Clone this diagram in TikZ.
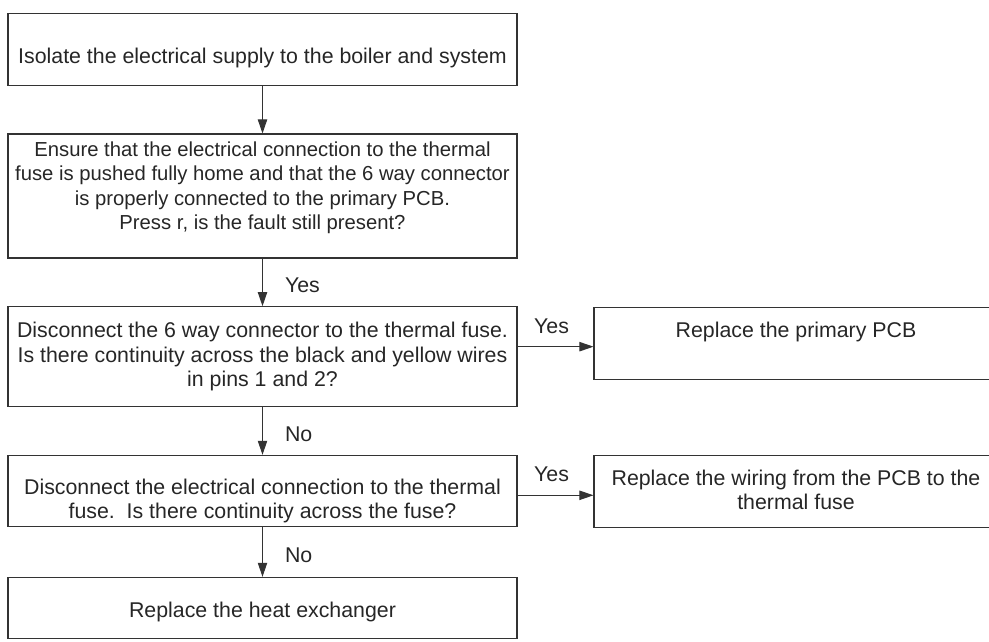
\documentclass[tikz,border=0pt]{standalone}
\usepackage{fontspec}
\setmainfont{Liberation Sans}
\usetikzlibrary{arrows.meta}

\begin{document}
\begin{tikzpicture}[
    x=0.75pt, y=-0.75pt,
    font=\fontsize{16}{18.3}\selectfont,
    stepbox/.style={
        draw=black!80, line width=0.8pt,
        minimum width=381.75pt, inner sep=0pt
    },
    endbox/.style={
        draw=black!80, line width=0.8pt,
        minimum width=303pt, inner sep=0pt
    },
    txt/.style={align=center, inner sep=0pt, text=black!85},
    flow/.style={-{Triangle[length=10.5pt, width=7pt]}, draw=black!80, line width=0.75pt},
    vlbl/.style={right=16.5pt, yshift=-2.5pt, inner sep=0pt, text=black!85},
    hlbl/.style={above=9.5pt, xshift=-3pt, inner sep=0pt, text=black!85}
]
\useasboundingbox (0,0) rectangle (989,642);

% Main column
\node[stepbox, minimum height=54.3pt] (isolate) at (262.5, 49.5) {};
\node[txt] (isolate-txt) at ([yshift=-6.2pt]isolate.center)
    {Isolate the electrical supply to the boiler and system};

\node[stepbox, minimum height=93pt] (ensure) at (262.5, 196) {};
\node[txt, font=\fontsize{15.2}{18.3}\selectfont] (ensure-txt)
    at ([yshift=6.2pt]ensure.center) {%
    Ensure that the electrical connection to the thermal\\
    fuse is pushed fully home and that the 6 way connector\\
    is properly connected to the primary PCB.\\
    Press r, is the fault still present?};

\node[stepbox, minimum height=75pt] (check6) at (262.5, 356.7) {};
\node[txt] (check6-txt) at (check6.center) {%
    Disconnect the 6 way connector to the thermal fuse.\\
    Is there continuity across the black and yellow wires\\
    in pins 1 and 2?};

\node[stepbox, minimum height=53.5pt] (fusetest) at (262.5, 491) {};
\node[txt] (fusetest-txt) at ([yshift=-7.7pt]fusetest.center) {%
    Disconnect the electrical connection to the thermal\\
    fuse.\ \ Is there continuity across the fuse?};

\node[stepbox, minimum height=45.5pt] (heatex) at (262.5, 607.7) {};
\node[txt] (heatex-txt) at ([yshift=-3.4pt]heatex.center)
    {Replace the heat exchanger};

% Replacement boxes on the right
\node[endbox, minimum height=53.8pt] (pcb) at (796, 343.2) {};
\node[txt] (pcb-txt) at ([yshift=8.5pt]pcb.center) {Replace the primary PCB};

\node[endbox, minimum height=53.7pt] (wiring) at (796, 491.5) {};
\node[txt] (wiring-txt) at ([yshift=1pt]wiring.center) {%
    Replace the wiring from the PCB to the\\
    thermal fuse};

% Connectors
\draw[flow] (isolate.south) -- (ensure.north);
\draw[flow] (ensure.south) -- node[vlbl] (yes-a) {Yes} (check6.north);
\draw[flow] (check6.south) -- node[vlbl] (no-a) {No} (fusetest.north);
\draw[flow] (fusetest.south) -- node[vlbl] (no-b) {No} (heatex.north);

\coordinate (pcb-in) at ([yshift=-2.6pt]pcb.west);
\coordinate (wiring-in) at ([yshift=-2.85pt]wiring.west);
\draw[flow] (check6.east |- pcb-in) -- node[hlbl] (yes-b) {Yes} (pcb-in);
\draw[flow] (fusetest.east |- wiring-in) -- node[hlbl] (yes-c) {Yes} (wiring-in);

\end{tikzpicture}
\end{document}
